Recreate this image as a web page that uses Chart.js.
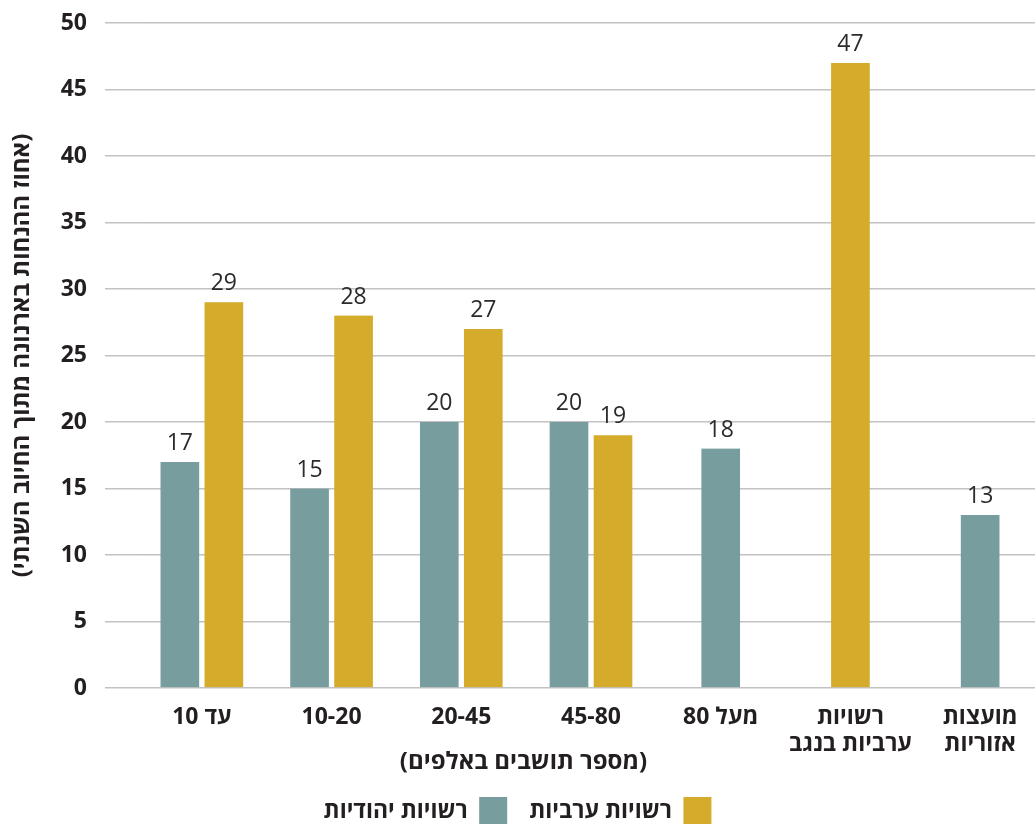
<!DOCTYPE html>
<html lang="he">
<head>
<meta charset="utf-8">
<script src="https://cdn.jsdelivr.net/npm/chart.js@4.4.1/dist/chart.umd.min.js"></script>
<style>
  html, body { margin: 0; padding: 0; background: #ffffff; overflow: hidden; }
  #wrap { width: 1035px; height: 824px; position: relative; }
</style>
</head>
<body>
<div id="wrap"><canvas id="chart" dir="rtl"></canvas></div>
<script>
// Municipality size groups (residents, in thousands) and special groups
const categories = [
  ['עד 10'],
  ['10-20'],
  ['20-45'],
  ['45-80'],
  ['מעל 80'],
  ['רשויות', 'ערביות בנגב'],
  ['מועצות', 'אזוריות']
];

// Share of property-tax discounts out of the annual levy (%)
const jewishValues = [17, 15, 20, 20, 18, null, 13];
const arabValues   = [29, 28, 27, 19, null, 47, null];

const seriesNames = ['רשויות יהודיות', 'רשויות ערביות'];
const yTitle = '(אחוז ההנחות בארנונה מתוך החיוב השנתי)';
const xTitle = '(מספר תושבים באלפים)';

const FONT = '"Open Sans", "Liberation Sans", "DejaVu Sans", sans-serif';
const TEXT = '#231f20';
const TEAL = '#789d9e';
const GOLD = '#d4ab2a';
const GRID = '#c2c2c2';

// Writes each bar's value just above it
const valueLabels = {
  id: 'valueLabels',
  afterDatasetsDraw(chart) {
    const ctx = chart.ctx;
    ctx.save();
    ctx.font = '400 23px ' + FONT;
    ctx.fillStyle = '#2b2b2b';
    ctx.textAlign = 'center';
    ctx.textBaseline = 'alphabetic';
    chart.data.datasets.forEach((ds, i) => {
      const meta = chart.getDatasetMeta(i);
      meta.data.forEach((bar, j) => {
        const v = ds.data[j];
        if (v === null || v === undefined) return;
        ctx.fillText(String(v), bar.x, bar.y - 12);
      });
    });
    ctx.restore();
  }
};

// Lets the category band run slightly past the right edge of the canvas
const widenCategories = {
  id: 'widenCategories',
  afterLayout(chart) {
    const x = chart.scales.x;
    x.right += 10;
    x.width += 10;
    x.configure();
  }
};

// Caption for the category axis, centred under the plot
const xCaption = {
  id: 'xCaption',
  afterDraw(chart) {
    const ctx = chart.ctx;
    ctx.save();
    ctx.font = 'bold 24px ' + FONT;
    ctx.fillStyle = TEXT;
    ctx.textAlign = 'center';
    ctx.textBaseline = 'middle';
    ctx.fillText(xTitle, chart.width / 2 + 6, chart.scales.x.bottom - 13);
    ctx.restore();
  }
};

const barStyle = {
  barThickness: 44,
  borderWidth: { top: 0, bottom: 0, left: 3, right: 3 },
  borderColor: 'rgba(0,0,0,0)',
  borderSkipped: false,
  skipNull: true
};

new Chart(document.getElementById('chart'), {
  type: 'bar',
  data: {
    labels: categories,
    datasets: [
      Object.assign({ label: seriesNames[0], data: jewishValues, backgroundColor: TEAL }, barStyle),
      Object.assign({ label: seriesNames[1], data: arabValues, backgroundColor: GOLD }, barStyle)
    ]
  },
  options: {
    responsive: true,
    maintainAspectRatio: false,
    animation: false,
    layout: { padding: { top: 0, left: 0, right: 0, bottom: -11 } },
    plugins: {
      legend: {
        position: 'bottom',
        rtl: true,
        reverse: true,
        textDirection: 'rtl',
        labels: {
          boxWidth: 28,
          boxHeight: 28,
          padding: 22,
          color: TEXT,
          font: { family: FONT, size: 23, weight: 'bold' },
          generateLabels(chart) {
            return chart.data.datasets.map((ds, i) => ({
              text: ds.label,
              fillStyle: ds.backgroundColor,
              strokeStyle: ds.backgroundColor,
              lineWidth: 0,
              hidden: false,
              datasetIndex: i,
              fontColor: TEXT
            }));
          }
        }
      },
      tooltip: { enabled: false }
    },
    scales: {
      x: {
        grid: { display: false },
        border: { display: false },
        ticks: {
          color: TEXT,
          padding: 8,
          autoSkip: false,
          maxRotation: 0,
          font: { family: FONT, size: 23, weight: 'bold', lineHeight: 1.18 }
        },
        afterFit(scale) { scale.height = 87; }
      },
      y: {
        min: 0,
        max: 50,
        border: { display: false },
        grid: {
          color: GRID,
          lineWidth: 1.5,
          drawTicks: true,
          tickLength: 32,
          tickColor: GRID
        },
        ticks: {
          stepSize: 5,
          color: TEXT,
          padding: 18,
          font: { family: FONT, size: 23, weight: 'bold' }
        },
        title: {
          display: true,
          text: yTitle,
          color: TEXT,
          padding: { top: 8, bottom: 0 },
          font: { family: FONT, size: 24, weight: 'bold' }
        },
        afterFit(scale) {
          scale.width = 137;
          scale.paddingTop = 23;
        }
      }
    }
  },
  plugins: [valueLabels, widenCategories, xCaption]
});
</script>
</body>
</html>
